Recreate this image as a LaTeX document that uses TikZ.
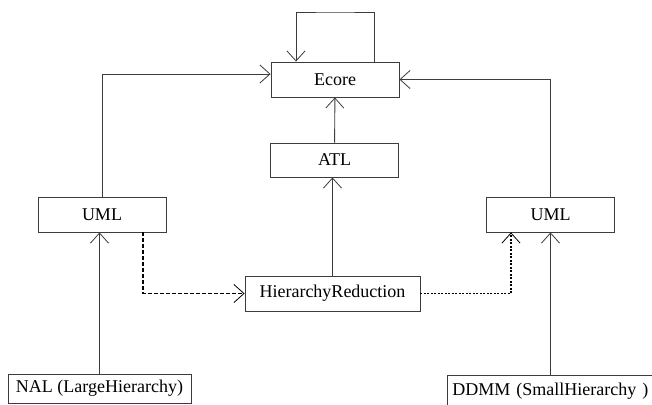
\documentclass[tikz,border=0pt]{standalone}
\usepackage{fontspec}
\setmainfont{Liberation Serif}
\usetikzlibrary{arrows.meta}
\definecolor{boxline}{RGB}{60, 60, 60}

\begin{document}
\begin{tikzpicture}[
    x=1pt, y=-1pt,
    box/.style={rectangle, draw=boxline, line width=0.9pt, minimum width=128pt, minimum height=35pt, text centered, inner sep=0pt, font=\fontsize{18}{20}\selectfont},
    arrow/.style={-{Straight Barb[length=10pt, width=18pt, line width=0.8pt]}, line width=0.9pt, draw=boxline},
    mapping/.style={arrow, line width=1.5pt, dash pattern=on 4pt off 2pt, draw=black},
    dotflow/.style={arrow, line width=1.5pt, dash pattern=on 2pt off 1.5pt, draw=black}
]

% Canvas
\useasboundingbox (0,0) rectangle (652,404);

% Metamodels
\node[box] (ecore) at (335,79.5) {Ecore};
\node[box, minimum height=34pt] (atl) at (334.5,160) {ATL};
\node[box] (umlL) at (102,214.5) {UML};
\node[box] (umlR) at (550.5,214.5) {UML};

% Transformation
\node[box, minimum width=175pt] (hr) at (332.5,293.5) {HierarchyReduction};

% Models
\node[box, minimum width=183pt, minimum height=29pt] (nal) at (99.5,388.5) {NAL (LargeHierarchy)};
\node[box, anchor=north west, minimum width=215pt, minimum height=32pt, text width=205pt, align=left] (ddmm) at (447,375) {DDMM (SmallHierarchy )};

% Self loop on Ecore
\coordinate (looptop) at (335,12);
\draw[arrow] ([xshift=39pt]ecore.north) |- (looptop) -| ([xshift=-39pt]ecore.north);

% Conformance links
\draw[arrow] (umlL.north) |- ([yshift=5.5pt]ecore.west);
\draw[arrow] (umlR.north) |- (ecore.east);
\draw[arrow] (atl) -- (ecore);
\draw[arrow] (hr.north) -- (hr.north |- atl.south);
\draw[arrow] (nal.north) -- (nal.north |- umlL.south);
\draw[arrow] (umlR.south |- ddmm.north) -- (umlR.south);

% Transformation flow
\draw[mapping] ([xshift=41pt]umlL.south) |- (hr.west);
\draw[dotflow] (hr.east) -| ([xshift=-39.5pt]umlR.south);

\end{tikzpicture}
\end{document}
